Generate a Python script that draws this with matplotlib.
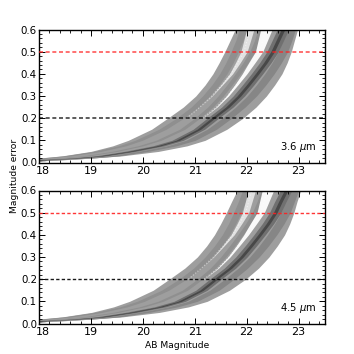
import numpy as np
import matplotlib
matplotlib.use("Agg")
import matplotlib.pyplot as plt
from matplotlib.ticker import MultipleLocator
from matplotlib.transforms import ScaledTranslation

# error levels the curves were read at
err_levels = [0.008, 0.012, 0.02, 0.03, 0.05, 0.075, 0.1, 0.15, 0.2, 0.25, 0.3, 0.35, 0.4, 0.45, 0.5, 0.55, 0.6]

# outer edges of the whole cloud (magnitude at each error level)
env_left = [18.0, 18.0, 18.0, 18.45, 19.0, 19.42, 19.72, 20.17, 20.48, 20.78, 21.02, 21.2, 21.35, 21.47, 21.58, 21.68, 21.78]
env_right = [18.0, 18.45, 19.0, 19.6, 20.3, 20.85, 21.2, 21.62, 21.93, 22.18, 22.38, 22.54, 22.68, 22.78, 22.86, 22.92, 22.98]

# strand centres
strand_a = [18.0, 18.0, 18.1, 18.55, 19.12, 19.6, 19.92, 20.38, 20.72, 21.0, 21.22, 21.4, 21.55, 21.67, 21.77, 21.86, 21.93]
strand_b = [18.0, 18.02, 18.4, 18.9, 19.45, 19.95, 20.3, 20.76, 21.05, 21.3, 21.5, 21.67, 21.83, 21.98, 22.11, 22.2, 22.27]
strand_c = [18.0, 18.3, 18.95, 19.45, 20.0, 20.55, 20.92, 21.33, 21.62, 21.88, 22.1, 22.28, 22.44, 22.58, 22.7, 22.78, 22.85]
core = [18.0, 18.05, 18.7, 19.2, 19.75, 20.3, 20.67, 21.08, 21.35, 21.63, 21.85, 22.03, 22.2, 22.36, 22.5, 22.6, 22.7]

# white gaps between strands, only open at large errors
gap_levels = [0.2, 0.25, 0.3, 0.35, 0.4, 0.45, 0.5, 0.55, 0.6]
gap1_mid = [20.85, 21.1, 21.33, 21.52, 21.7, 21.83, 21.95, 22.01, 22.07]
gap1_half = [0.0, 0.0, 0.005, 0.015, 0.03, 0.045, 0.06, 0.065, 0.07]
gap2_mid = [21.15, 21.42, 21.63, 21.8, 21.96, 22.1, 22.24, 22.31, 22.38]
gap2_half = [0.0, 0.01, 0.02, 0.03, 0.045, 0.06, 0.07, 0.09, 0.11]

# 4.5 um panel sits a little to the right
shift_45 = [0.0, 0.0, 0.0, 0.01, 0.02, 0.03, 0.04, 0.05, 0.05, 0.05, 0.05, 0.05, 0.05, 0.05, 0.05, 0.05, 0.06]

hlines_y = [0.5, 0.2]
hlines_col = ["#ff2020", "#000000"]
panel_labels = ["3.6 $\\mu$m", "4.5 $\\mu$m"]
xticks = [18, 19, 20, 21, 22, 23]
yticks = [0.0, 0.1, 0.2, 0.3, 0.4, 0.5, 0.6]

plt.rcParams['font.family'] = 'DejaVu Sans'
fig = plt.figure(figsize=(3.54, 3.54), dpi=100)
ax1 = fig.add_axes([39/354, 1-162.5/354, 285.5/354, 133/354])
ax2 = fig.add_axes([39/354, 1-323.5/354, 285.5/354, 133/354])


def strand(ax, mid, half, shift, color):
    y = np.array(err_levels)
    m = np.array(mid) + shift
    ax.fill_betweenx(y, m-half, m+half, color=color, lw=0)


for i, ax in enumerate([ax1, ax2]):
    s = np.array(shift_45) * i
    y = np.array(err_levels)
    ax.fill_betweenx(y, np.array(env_left)+s*0.6, np.array(env_right)+s, color="#9e9e9e", lw=0)

    strand(ax, strand_a, 0.07, s, "#8f8f8f")
    strand(ax, strand_b, 0.05, s, "#8f8f8f")
    strand(ax, strand_c, 0.09, s, "#868686")
    strand(ax, core, 0.11, s, "#707070")
    strand(ax, core, 0.035, s, "#484848")

    g = np.array(gap_levels)
    for mid, half, a in [(gap1_mid, gap1_half, 0.7), (gap2_mid, gap2_half, 0.95)]:
        m = np.array(mid) + 0.03*i
        ax.fill_betweenx(g, m-np.array(half), m+np.array(half), color="white", alpha=a, lw=0)
        ax.plot(m, g, color="white", ls=":", lw=0.8, alpha=0.5)

    for yy, c in zip(hlines_y, hlines_col):
        ax.axhline(yy, color=c, lw=1.2 if i == 0 else 1.0, alpha=0.75 if i == 0 else 0.9, zorder=5,
                   dashes=(2.4, 1.6))

    ax.set_xlim(18, 23.5)
    ax.set_ylim(0, 0.6)
    ax.set_xticks(xticks)
    ax.set_yticks(yticks)
    ax.xaxis.set_minor_locator(MultipleLocator(0.2))
    ax.yaxis.set_minor_locator(MultipleLocator(0.02))
    ax.tick_params(which="major", direction="in", top=True, right=True, length=4, width=0.7)
    ax.tick_params(which="minor", direction="in", top=True, right=True, length=2, width=0.6)
    ax.tick_params(axis="x", which="major", labelsize=8, pad=2.5)
    ax.tick_params(axis="y", which="major", labelsize=7.4, pad=1.5)
    # the 18 label is pushed off the corner in the original
    lab18 = ax.get_xticklabels()[0]
    lab18.set_transform(lab18.get_transform() + ScaledTranslation(3/72, 0, fig.dpi_scale_trans))
    for sp in ax.spines.values():
        sp.set_linewidth(1.0)
    ax.text(0.97, 0.115, panel_labels[i], transform=ax.transAxes, ha="right", va="center", fontsize=7.2)

fig.text(177/354, 1-345/354, "AB Magnitude", ha="center", va="center", fontsize=6.6)
fig.text(15/354, 1-176/354, "Magnitude error", rotation=90, ha="center", va="center", fontsize=6.6)

fig.savefig("out.png", dpi=100)
